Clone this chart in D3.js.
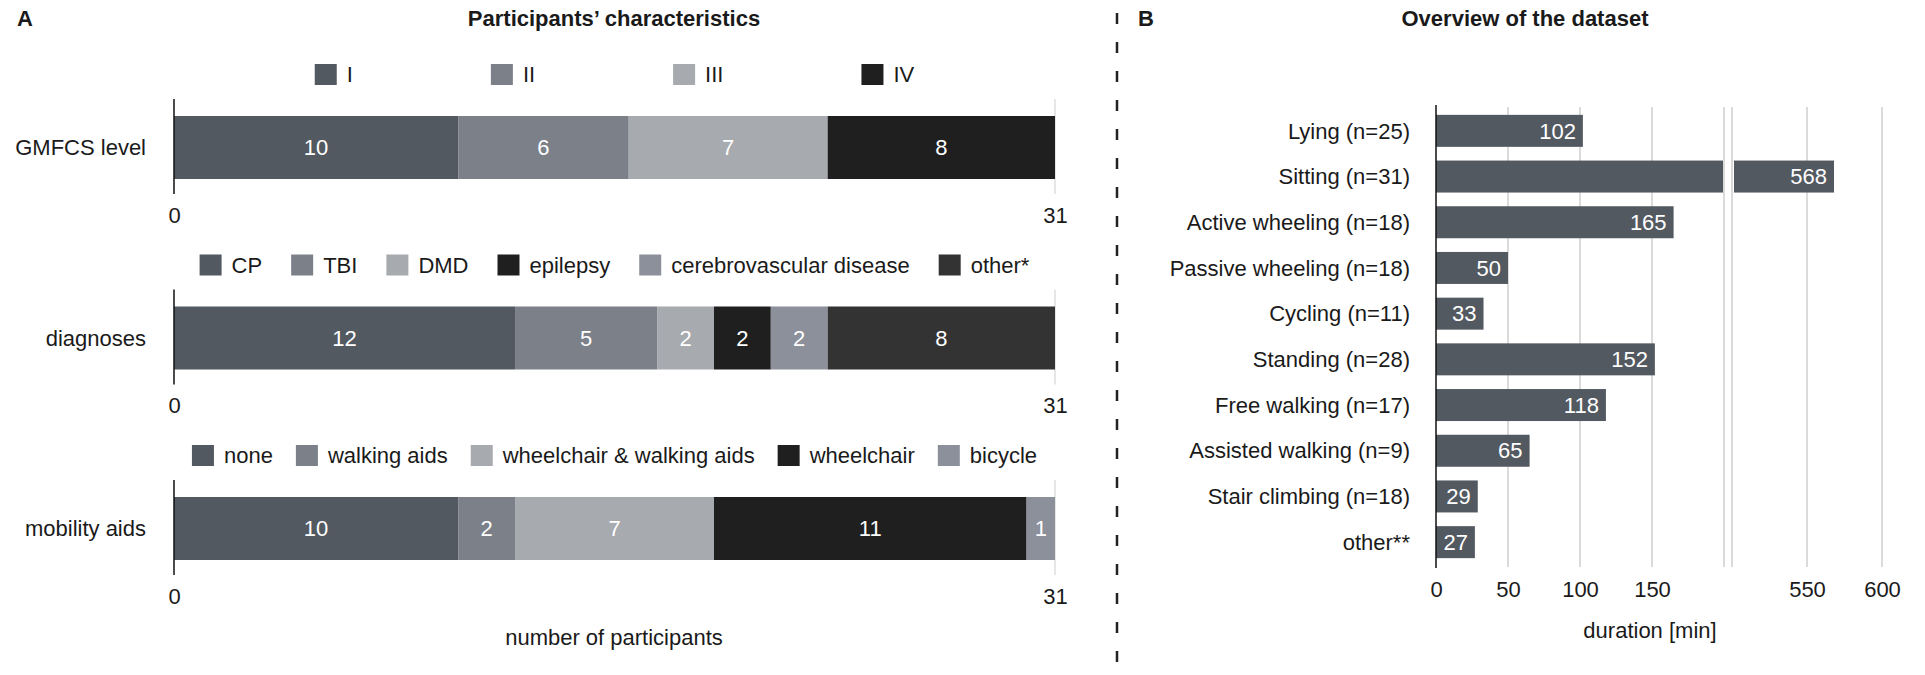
<!DOCTYPE html>
<html>
<head>
<meta charset="utf-8">
<script src="https://cdn.jsdelivr.net/npm/d3@7"></script>
<style>
  body { margin: 0; background: #fff; }
  svg text { font-family: "Liberation Sans", Arial, Helvetica, sans-serif; fill: #1a1a1a; }
</style>
</head>
<body>
<div id="chart"></div>
<script>
// ---- data: panel A ----
const groups = ["GMFCS level", "diagnoses", "mobility aids"];
const gmfcsCats = ["I", "II", "III", "IV"];
const gmfcsVals = [10, 6, 7, 8];
const diagCats = ["CP", "TBI", "DMD", "epilepsy", "cerebrovascular disease", "other*"];
const diagVals = [12, 5, 2, 2, 2, 8];
const mobCats = ["none", "walking aids", "wheelchair & walking aids", "wheelchair", "bicycle"];
const mobVals = [10, 2, 7, 11, 1];
const participantsTicks = [0, 31];

// ---- data: panel B ----
const activities = ["Lying (n=25)", "Sitting (n=31)", "Active wheeling (n=18)", "Passive wheeling (n=18)",
                    "Cycling (n=11)", "Standing (n=28)", "Free walking (n=17)", "Assisted walking (n=9)",
                    "Stair climbing (n=18)", "other**"];
const durations = [102, 568, 165, 50, 33, 152, 118, 65, 29, 27];
const lowTicks = [0, 50, 100, 150];
const highTicks = [550, 600];
const lowGrid = [50, 100, 150, 200];
const highGrid = [500, 550, 600];

// colours
const gmfcsColors = ["#535961", "#7b8089", "#a7aaae", "#1f1f1f"];
const diagColors = ["#535961", "#7b8089", "#a7aaae", "#1f1f1f", "#8b909a", "#333333"];
const mobColors = ["#535961", "#7b8089", "#a7aaae", "#1f1f1f", "#8b909a"];
const barColor = "#535961";

const width = 1925, height = 675, fs = 22;

const svg = d3.select("#chart")
              .append("svg")
              .attr("width", width)
              .attr("height", height);

// ---------- panel A ----------
svg.append("text").attr("x", 17).attr("y", 18).attr("dy", "0.35em")
   .style("font-size", "22px").style("font-weight", "bold").text("A");
svg.append("text").attr("x", 614).attr("y", 18).attr("dy", "0.35em")
   .attr("text-anchor", "middle")
   .style("font-size", "22px").style("font-weight", "bold").text("Participants’ characteristics");

const x = d3.scaleLinear().domain([0, 31]).range([174, 1055]);

const panels = [
  {cats: gmfcsCats, vals: gmfcsVals, colors: gmfcsColors, gap: 138},
  {cats: diagCats, vals: diagVals, colors: diagColors, gap: 29},
  {cats: mobCats, vals: mobVals, colors: mobColors, gap: 23}
];

panels.forEach((p, i) => {
  const top = 116 + i * 190.5, bh = 63;
  const g = svg.append("g");

  let acc = 0;
  const segs = p.vals.map((v, j) => {
    const s = {cat: p.cats[j], v: v, x0: acc, x1: acc + v, color: p.colors[j]};
    acc += v;
    return s;
  });

  // faint line at the max
  g.append("line")
   .attr("x1", x(31)).attr("x2", x(31))
   .attr("y1", top - 17).attr("y2", top + bh + 15)
   .attr("stroke", "#d6d6d6").attr("stroke-width", 1.2);

  g.selectAll(".seg")
   .data(segs)
   .enter()
   .append("rect")
   .attr("class", "seg")
   .attr("x", d => x(d.x0))
   .attr("y", top)
   .attr("width", d => x(d.x1) - x(d.x0))
   .attr("height", bh)
   .attr("fill", d => d.color);

  g.selectAll(".lbl")
   .data(segs)
   .enter()
   .append("text")
   .attr("x", d => (x(d.x0) + x(d.x1)) / 2)
   .attr("y", top + bh / 2)
   .attr("dy", "0.35em")
   .attr("text-anchor", "middle")
   .style("font-size", fs + "px")
   .style("fill", "#fff")
   .text(d => d.v);

  // vertical axis line
  g.append("line")
   .attr("x1", x(0)).attr("x2", x(0))
   .attr("y1", top - 17).attr("y2", top + bh + 15)
   .attr("stroke", "#111").attr("stroke-width", 1.5);

  // category label
  g.append("text")
   .attr("x", 146).attr("y", top + bh / 2).attr("dy", "0.35em")
   .attr("text-anchor", "end")
   .style("font-size", fs + "px")
   .text(groups[i]);

  // ticks 0 / 31
  g.append("g")
   .attr("transform", `translate(0,${top + bh + 28})`)
   .call(d3.axisBottom(x).tickValues(participantsTicks).tickSize(0).tickPadding(0))
   .call(a => a.select(".domain").remove())
   .selectAll("text")
   .style("font-size", fs + "px")
   .style("font-family", null);

  // legend
  const leg = g.append("g");
  let lx = 0;
  p.cats.forEach((c, j) => {
    const it = leg.append("g").attr("transform", `translate(${lx},0)`);
    it.append("rect").attr("x", 0).attr("y", top - 52).attr("width", 22).attr("height", 21)
      .attr("fill", p.colors[j]);
    const t = it.append("text").attr("x", 32).attr("y", top - 41.5).attr("dy", "0.35em")
      .style("font-size", fs + "px").text(c);
    const w = t.node().getComputedTextLength();
    lx += 32 + w + (j < p.cats.length - 1 ? p.gap : 0);
  });
  leg.attr("transform", `translate(${614.5 - lx / 2},0)`);
});

svg.append("text").attr("x", 614).attr("y", 637).attr("dy", "0.35em")
   .attr("text-anchor", "middle").style("font-size", fs + "px").text("number of participants");

// divider
svg.append("line")
   .attr("x1", 1117).attr("x2", 1117).attr("y1", 0).attr("y2", height)
   .attr("stroke", "#222").attr("stroke-width", 2.5)
   .attr("stroke-dasharray", "11,18").attr("stroke-dashoffset", 16);

// ---------- panel B ----------
svg.append("text").attr("x", 1138).attr("y", 18).attr("dy", "0.35em")
   .style("font-size", "22px").style("font-weight", "bold").text("B");
svg.append("text").attr("x", 1525).attr("y", 18).attr("dy", "0.35em")
   .attr("text-anchor", "middle")
   .style("font-size", "22px").style("font-weight", "bold").text("Overview of the dataset");

const xLow = d3.scaleLinear().domain([0, 200]).range([1436, 1724]);
const xHigh = d3.scaleLinear().domain([500, 600]).range([1732, 1882]);
const y = d3.scaleBand().domain(activities).range([108, 565]).paddingInner(0.3).paddingOuter(0.15);

const data = activities.map((a, i) => ({act: a, v: durations[i]}));

const gB = svg.append("g");

// gridlines
gB.selectAll(".gl")
  .data(lowGrid.map(v => xLow(v)).concat(highGrid.map(v => xHigh(v))))
  .enter()
  .append("line")
  .attr("x1", d => d).attr("x2", d => d)
  .attr("y1", 107).attr("y2", 567)
  .attr("stroke", "#cfcfcf").attr("stroke-width", 1.5);

// bars (lower segment)
gB.selectAll(".barL")
  .data(data)
  .enter()
  .append("rect")
  .attr("x", xLow(0))
  .attr("y", d => y(d.act))
  .attr("width", d => d.v > 200 ? xLow(200) - 1 - xLow(0) : xLow(d.v) - xLow(0))
  .attr("height", y.bandwidth())
  .attr("fill", barColor);

// bars (upper segment, broken axis)
gB.selectAll(".barH")
  .data(data.filter(d => d.v > 500))
  .enter()
  .append("rect")
  .attr("x", xHigh(500) + 2)
  .attr("y", d => y(d.act))
  .attr("width", d => xHigh(d.v) - xHigh(500) - 2)
  .attr("height", y.bandwidth())
  .attr("fill", barColor);

gB.selectAll(".val")
  .data(data)
  .enter()
  .append("text")
  .attr("x", d => (d.v > 500 ? xHigh(d.v) : xLow(d.v)) - 7)
  .attr("y", d => y(d.act) + y.bandwidth() / 2)
  .attr("dy", "0.35em")
  .attr("text-anchor", "end")
  .style("font-size", fs + "px")
  .style("fill", "#fff")
  .text(d => d.v);

// y axis line and labels
gB.append("line")
  .attr("x1", xLow(0)).attr("x2", xLow(0))
  .attr("y1", 105).attr("y2", 568)
  .attr("stroke", "#111").attr("stroke-width", 1.5);

gB.selectAll(".act")
  .data(data)
  .enter()
  .append("text")
  .attr("x", 1410)
  .attr("y", d => y(d.act) + y.bandwidth() / 2)
  .attr("dy", "0.35em")
  .attr("text-anchor", "end")
  .style("font-size", fs + "px")
  .text(d => d.act);

// x tick labels
[[xLow, lowTicks], [xHigh, highTicks]].forEach(([sc, tv]) => {
  gB.append("g")
    .attr("transform", "translate(0,581)")
    .call(d3.axisBottom(sc).tickValues(tv).tickSize(0).tickPadding(0))
    .call(a => a.select(".domain").remove())
    .selectAll("text")
    .style("font-size", fs + "px")
    .style("font-family", null);
});

svg.append("text").attr("x", 1650).attr("y", 630).attr("dy", "0.35em")
   .attr("text-anchor", "middle").style("font-size", fs + "px").text("duration [min]");
</script>
</body>
</html>
